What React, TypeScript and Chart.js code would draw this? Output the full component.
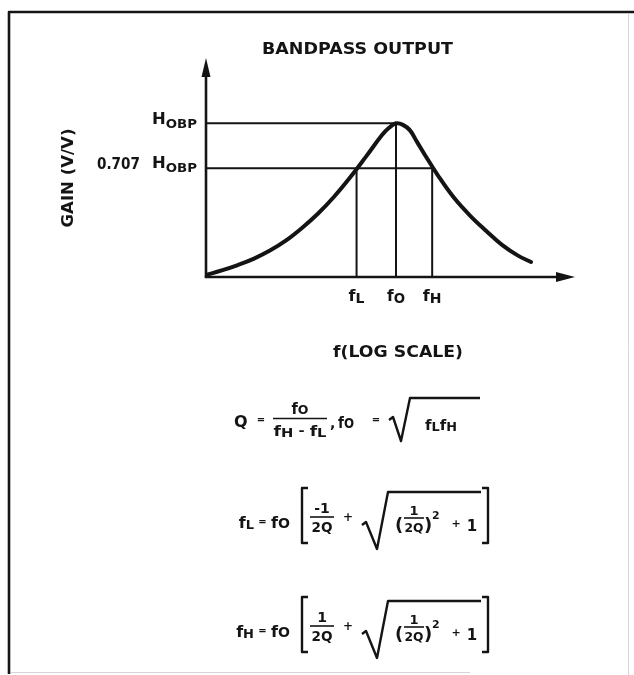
import React, { useEffect, useRef } from "react";
import { Chart, registerables } from "chart.js";

Chart.register(...registerables);

// ---- data ----
const freqs = [100, 121, 147, 179, 217, 264, 320, 389, 472, 573, 695, 844, 919, 1000, 1088, 1185, 1290, 1404, 1664, 2020, 2452, 2976, 3613, 4386, 5135];
const gains = [0.013, 0.043, 0.078, 0.12, 0.172, 0.238, 0.319, 0.413, 0.522, 0.647, 0.783, 0.924, 0.971, 1.0, 0.99, 0.954, 0.879, 0.804, 0.66, 0.515, 0.4, 0.301, 0.209, 0.139, 0.098];
const fL = 620;
const f0 = 1000;
const fH = 1550;
const peakGain = 1;
const halfPowerGain = 0.707;
const X_MIN = 100;
const X_MAX = 8750;
const Y_MAX = 1.425;

const W = 634;
const H = 675;
const INK = "#141414";
const FONT = "'DejaVu Sans', sans-serif";

type Part = [string, number, number]; // text, size, dy

function partsWidth(ctx: CanvasRenderingContext2D, parts: Part[]) {
  let w = 0;
  for (const [s, size] of parts) {
    ctx.font = `bold ${size}px ${FONT}`;
    w += ctx.measureText(s).width;
  }
  return w;
}

function seq(ctx: CanvasRenderingContext2D, parts: Part[], x: number, y: number, align: "left" | "center" | "right" = "left", fitW?: number) {
  const natural = partsWidth(ctx, parts);
  const sx = fitW ? fitW / natural : 1;
  const total = natural * sx;
  let start = x;
  if (align === "center") start = x - total / 2;
  if (align === "right") start = x - total;
  ctx.save();
  ctx.translate(start, y);
  ctx.scale(sx, 1);
  ctx.textAlign = "left";
  ctx.textBaseline = "alphabetic";
  ctx.fillStyle = INK;
  let cx = 0;
  for (const [s, size, dy] of parts) {
    ctx.font = `bold ${size}px ${FONT}`;
    ctx.fillText(s, cx, dy);
    cx += ctx.measureText(s).width;
  }
  ctx.restore();
}

function line(ctx: CanvasRenderingContext2D, pts: number[][], w = 2) {
  ctx.save();
  ctx.strokeStyle = INK;
  ctx.lineWidth = w;
  ctx.lineJoin = "round";
  ctx.lineCap = "butt";
  ctx.beginPath();
  ctx.moveTo(pts[0][0], pts[0][1]);
  for (let i = 1; i < pts.length; i++) ctx.lineTo(pts[i][0], pts[i][1]);
  ctx.stroke();
  ctx.restore();
}

function bracket(ctx: CanvasRenderingContext2D, x: number, top: number, bottom: number, dir: number) {
  line(ctx, [[x + dir * 6, top], [x, top], [x, bottom], [x + dir * 6, bottom]], 2.4);
}

function rootFormula(ctx: CanvasRenderingContext2D, lhsSub: string, num: string, c: number) {
  // lhs
  seq(ctx, [["f", 16, 0], [lhsSub, 13, 1]], 254, c + 12, "right");
  seq(ctx, [["=", 10, 0]], 262.5, c + 9, "center");
  seq(ctx, [["f", 16, 0], ["O", 14, 0]], 271, c + 12, "left", 19);
  bracket(ctx, 302, c - 28, c + 27, 1);
  // fraction
  seq(ctx, [[num, 14, 0]], 322, c - 3, "center");
  line(ctx, [[310, c + 1], [334, c + 1]], 1.6);
  seq(ctx, [["2Q", 14, 0]], 322, c + 16, "center", 21);
  seq(ctx, [["+", 12, 0]], 348, c + 5, "center");
  // sqrt
  line(ctx, [[362, c + 9], [366, c + 6], [377, c + 33], [388, c - 24], [481, c - 24]], 2.4);
  seq(ctx, [["(", 18, 0]], 395, c + 15, "left");
  seq(ctx, [["1", 13, 0]], 414, c - 1, "center");
  line(ctx, [[404, c + 2], [424, c + 2]], 1.6);
  seq(ctx, [["2Q", 13, 0]], 414, c + 16, "center", 19);
  seq(ctx, [[")", 18, 0]], 424, c + 15, "left");
  seq(ctx, [["2", 11, 0]], 432, c + 3, "left");
  seq(ctx, [["+", 11, 0]], 456, c + 11, "center");
  seq(ctx, [["1", 15, 0]], 472, c + 15, "center");
  bracket(ctx, 488, c - 28, c + 27, -1);
}

const decor = {
  id: "decor",
  afterDatasetsDraw(chart: any) {
    const ctx: CanvasRenderingContext2D = chart.ctx;
    const xs = chart.scales.x;
    const ys = chart.scales.y;
    const x0 = xs.getPixelForValue(X_MIN);
    const y0 = ys.getPixelForValue(0);
    const top = chart.chartArea.top;
    const right = chart.chartArea.right;
    // axes
    line(ctx, [[x0, y0], [x0, top + 14]], 2.6);
    line(ctx, [[x0 - 1.3, y0], [right - 14, y0]], 2.6);
    ctx.save();
    ctx.fillStyle = INK;
    ctx.beginPath();
    ctx.moveTo(x0, top);
    ctx.lineTo(x0 - 4.5, top + 19);
    ctx.lineTo(x0 + 4.5, top + 19);
    ctx.closePath();
    ctx.fill();
    ctx.beginPath();
    ctx.moveTo(right, y0);
    ctx.lineTo(right - 19, y0 - 5);
    ctx.lineTo(right - 19, y0 + 5);
    ctx.closePath();
    ctx.fill();
    ctx.restore();
  },
  afterDraw(chart: any) {
    const ctx: CanvasRenderingContext2D = chart.ctx;
    const xs = chart.scales.x;
    const ys = chart.scales.y;
    // frame
    line(ctx, [[9, 674], [9, 12], [634, 12]], 2.6);
    ctx.save();
    ctx.strokeStyle = "#d6d6d6";
    ctx.lineWidth = 1;
    ctx.beginPath();
    ctx.moveTo(628.5, 14);
    ctx.lineTo(628.5, 675);
    ctx.moveTo(11, 672.5);
    ctx.lineTo(470, 672.5);
    ctx.stroke();
    ctx.restore();

    // title
    seq(ctx, [["BANDPASS OUTPUT", 15, 0]], 262, 54, "left", 191);
    // y label
    ctx.save();
    ctx.translate(73, 178);
    ctx.rotate(-Math.PI / 2);
    seq(ctx, [["GAIN (V/V)", 15, 0]], 0, 0, "center", 99);
    ctx.restore();
    // level labels
    const yPeak = ys.getPixelForValue(peakGain);
    const yHalf = ys.getPixelForValue(halfPowerGain);
    seq(ctx, [["H", 16, 0], ["OBP", 13, 4]], 197, yPeak + 1, "right", 45);
    seq(ctx, [["0.707", 15, 0]], 97, yHalf + 1, "left", 43);
    seq(ctx, [["H", 16, 0], ["OBP", 13, 4]], 197, yHalf, "right", 45);
    // frequency labels
    const yl = ys.getPixelForValue(0) + 24;
    seq(ctx, [["f", 16, 0], ["L", 14, 2]], xs.getPixelForValue(fL), yl, "center");
    seq(ctx, [["f", 16, 0], ["O", 14, 2]], xs.getPixelForValue(f0), yl, "center", 18);
    seq(ctx, [["f", 16, 0], ["H", 14, 2]], xs.getPixelForValue(fH), yl, "center");
    // x label
    seq(ctx, [["f(LOG SCALE)", 15, 0]], 333, 357, "left", 130);

    // formula 1: Q = fO/(fH - fL), fO = sqrt(fL fH)
    seq(ctx, [["Q", 16, 0]], 234, 427, "left");
    seq(ctx, [["=", 10, 0]], 261, 423, "center");
    seq(ctx, [["f", 15, 0], ["O", 13, 0]], 300, 414, "center", 17);
    line(ctx, [[273, 418.5], [327, 418.5]], 1.6);
    seq(ctx, [["f", 14, 0], ["H", 12, 1], [" - ", 12, -1], ["f", 14, 0], ["L", 12, 1]], 300, 436, "center", 53);
    seq(ctx, [[",", 14, 0]], 330, 428, "left");
    seq(ctx, [["f", 16, 0], ["O", 14, 0]], 338, 428, "left", 16);
    seq(ctx, [["=", 10, 0]], 376, 423, "center");
    line(ctx, [[389, 420], [393, 417], [401, 441], [410, 398], [480, 398]], 2.4);
    seq(ctx, [["f", 14, 0], ["L", 12, 1], ["f", 14, 0], ["H", 12, 1]], 425, 430, "left", 32);

    // formula 2 and 3
    rootFormula(ctx, "L", "-1", 516);
    rootFormula(ctx, "H", "1", 625);
  },
};

export default function App() {
  const ref = useRef<HTMLCanvasElement>(null);
  useEffect(() => {
    if (!ref.current) return;
    const curve = freqs.map((f, i) => ({ x: f, y: gains[i] }));
    const thin = { borderColor: INK, borderWidth: 2, pointRadius: 0, tension: 0, fill: false };
    const chart = new Chart(ref.current, {
      type: "line",
      data: {
        datasets: [
          { data: curve, borderColor: INK, borderWidth: 4, pointRadius: 0, tension: 0.4, fill: false, borderCapStyle: "round", borderJoinStyle: "round" },
          { data: [{ x: X_MIN, y: peakGain }, { x: f0, y: peakGain }], ...thin },
          { data: [{ x: X_MIN, y: halfPowerGain }, { x: fH, y: halfPowerGain }], ...thin },
          { data: [{ x: fL, y: 0 }, { x: fL, y: halfPowerGain }], ...thin },
          { data: [{ x: f0, y: 0 }, { x: f0, y: peakGain }], ...thin },
          { data: [{ x: fH, y: 0 }, { x: fH, y: halfPowerGain }], ...thin },
        ] as any,
      },
      options: {
        animation: false,
        responsive: false,
        devicePixelRatio: 1,
        layout: { padding: { left: 206, right: 59, top: 58, bottom: 398 } },
        scales: {
          x: { type: "logarithmic", min: X_MIN, max: X_MAX, display: false },
          y: { type: "linear", min: 0, max: Y_MAX, display: false },
        },
        plugins: { legend: { display: false }, tooltip: { enabled: false } },
        elements: { point: { radius: 0 } },
      },
      plugins: [decor],
    });
    return () => chart.destroy();
  }, []);
  return (
    <div style={{ position: "absolute", left: 0, top: 0, width: W, height: H, background: "#fff" }}>
      <canvas ref={ref} width={W} height={H} style={{ display: "block", width: W, height: H }} />
    </div>
  );
}
